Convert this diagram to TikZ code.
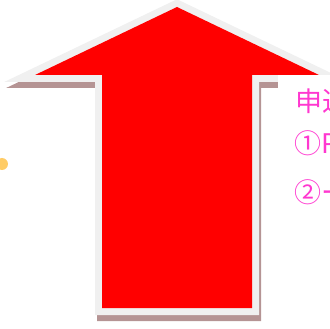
\documentclass[tikz,border=0pt]{standalone}
\usepackage{fontspec}
\newfontfamily\jpfont{Noto Sans CJK JP}
\definecolor{arrowgray}{RGB}{240,240,240}
\definecolor{shadowbrown}{RGB}{181,148,148}
\definecolor{notepink}{RGB}{255,56,208}
\definecolor{dotyellow}{RGB}{255,204,102}
\tikzset{notetext/.style={anchor=west,inner sep=0pt,text=notepink,font=\jpfont\fontsize{27}{27}\selectfont}}
\begin{document}
\begin{tikzpicture}[x=1pt,y=-1pt]% MUI TEN DO
			\clip (0,0) rectangle (330,329);
			\fill[dotyellow] (2,164) circle (6);
			\draw[shadowbrown,fill=shadowbrown,line width=14,line join=miter,shift={(2,6)}]
			(35,75)--(177,7)--(319,75)--(252,75)--(252,308)--(102,308)--(102,75)--cycle;
			\draw[arrowgray,fill=red,line width=14,line join=miter]
			(35,75)--(177,7)--(319,75)--(252,75)--(252,308)--(102,308)--(102,75)--cycle;
			\fill[red] (35,75)--(177,7)--(319,75)--(252,75)--(252,308)--(102,308)--(102,75)--cycle;
			\fill[white] (278,75) rectangle (330,329);
			\node[notetext] (line1) at (295,101) {申込};
			\node[notetext] (line2) at (294,143) {①P};
			\node[notetext] (line3) at (294,192) {②ー};
			\end{tikzpicture}
\end{document}
